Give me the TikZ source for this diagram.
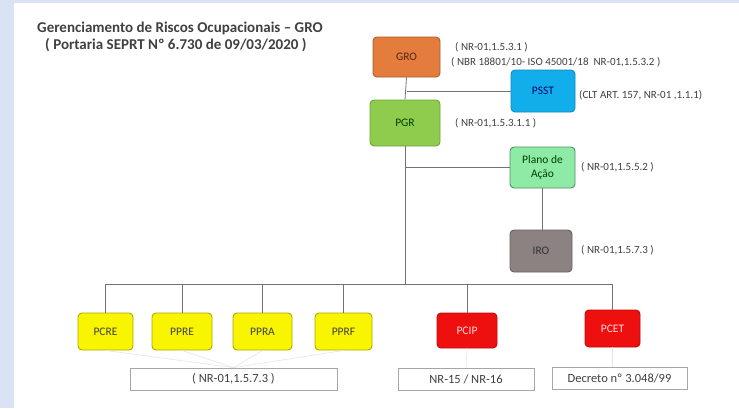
\documentclass[tikz,border=0pt]{standalone}
\usepackage{fontspec}
\setmainfont{Carlito}
\usetikzlibrary{positioning}

\definecolor{frameblue}{HTML}{DAE3F3}
\definecolor{txtgray}{HTML}{404040}
\definecolor{groorange}{HTML}{E47C3E}
\definecolor{psstblue}{HTML}{12AEEC}
\definecolor{pgrgreen}{HTML}{8FCB4C}
\definecolor{planogreen}{HTML}{8DEBA6}
\definecolor{irogray}{HTML}{8C8282}
\definecolor{progyellow}{HTML}{F9F400}
\definecolor{progred}{HTML}{EE0F0F}

\tikzset{
  box/.style={draw, rounded corners=4pt, line width=0.9pt, align=center,
    font=\fontsize{11.5}{13.5}\selectfont},
  yellowbox/.style={box, fill=progyellow, draw=progyellow!70!black, text=txtgray,
    minimum height=37pt},
  redbox/.style={box, fill=progred, draw=progred!80!black, text=red!15,
    minimum height=36pt},
  normbox/.style={draw=black!35, fill=white, line width=0.7pt, minimum height=22pt,
    inner sep=0pt, text=txtgray, font=\fontsize{12.5}{14}\selectfont},
  normlabel/.style={anchor=west, text=txtgray, inner sep=0pt,
    font=\fontsize{11}{13}\selectfont},
  link/.style={draw=black!55, line width=0.8pt},
  faint/.style={draw=black!10, line width=0.6pt}
}

\begin{document}
\begin{tikzpicture}[x=1pt,y=-1pt]
\fill[frameblue] (0,0) rectangle (739,408);
\fill[white] (14,3) rectangle (739,408);
\useasboundingbox (0,0) rectangle (739,408);

% title
\node[anchor=west, inner sep=0pt, text=txtgray, font=\bfseries\fontsize{15}{17}\selectfont] (title1) at (37,28) {Gerenciamento de Riscos Ocupacionais -- GRO};
\node[anchor=west, inner sep=0pt, text=txtgray, font=\bfseries\fontsize{15}{17}\selectfont] (title2) at (45,45) {( Portaria SEPRT Nº 6.730 de 09/03/2020 )};

% top of the tree
\node[box, fill=groorange, draw=groorange!75!black, text=groorange!35!black, minimum width=67pt, minimum height=40pt] (GRO) at (406.5,57) {GRO};
\node[box, fill=psstblue, draw=psstblue!80!black, text=blue!40!black, minimum width=64pt, minimum height=42pt] (PSST) at (543,91) {PSST};
\node[box, fill=pgrgreen, draw=pgrgreen!80!black, text=green!25!black, minimum width=70pt, minimum height=46pt] (PGR) at (405,123) {PGR};
\node[box, fill=planogreen, draw=planogreen!60!black, text=green!25!black, minimum width=65pt, minimum height=41pt, inner sep=1pt] (plano) at (542.5,167.5) {Plano de\\Ação};
\node[box, fill=irogray, draw=irogray!75!black, text=black!80, minimum width=62pt, minimum height=42pt] (IRO) at (541,251) {IRO};

\node[normlabel] (lgro1) at (455,47) {( NR-01,1.5.3.1 )};
\node[normlabel] (lgro2) at (451,62) {( NBR 18801/10- ISO 45001/18~~NR-01,1.5.3.2 )};
\node[normlabel] (lpsst) at (579,95) {(CLT ART. 157, NR-01 ,1.1.1)};
\node[normlabel] (lpgr) at (455,123) {( NR-01,1.5.3.1.1 )};
\node[normlabel] (lplano) at (581,167) {( NR-01,1.5.5.2 )};
\node[normlabel] (liro) at (581,250) {( NR-01,1.5.7.3 )};

% programs
\node[yellowbox, minimum width=55pt] (PCRE) at (105.5,331.5) {PCRE};
\node[yellowbox, minimum width=60pt] (PPRE) at (182,331.5) {PPRE};
\node[yellowbox, minimum width=59pt] (PPRA) at (262.5,331.5) {PPRA};
\node[yellowbox, minimum width=57pt] (PPRF) at (343.5,331.5) {PPRF};
\node[redbox, minimum width=60pt, minimum height=35pt] (PCIP) at (467,330.5) {PCIP};
\node[redbox, minimum width=55pt, minimum height=37pt] (PCET) at (612.5,328.5) {PCET};

\node[normbox, minimum width=207pt] (nryellow) at (233.5,379) {( NR-01,1.5.7.3 )};
\node[normbox, minimum width=136pt] (nrpcip) at (466,379.5) {NR-15 / NR-16};
\node[normbox, minimum width=135pt] (nrpcet) at (619.5,378) {Decreto nº 3.048/99};

\coordinate (bus) at (406,284);

% connectors
\draw[link] (GRO.south) -- (PGR.north);
\draw[link] (GRO.south |- PSST.west) -- (PSST.west);
\draw[link] (PGR.south) -- (PGR.south |- bus);
\draw[link] (PGR.south |- plano.west) -- (plano.west);
\draw[link] (plano.south) -- (plano.south |- IRO.north);
\draw[link] (PCRE.north |- bus) -- (PCET.north |- bus);
\foreach \p in {PCRE,PPRE,PPRA,PPRF,PCIP,PCET}
  \draw[link] (\p.north |- bus) -- (\p.north);

% faint
\foreach \p in {PCRE,PPRE,PPRA,PPRF}
  \draw[faint] (\p.south) -- (nryellow.north);
\draw[faint] (PCIP.south) -- (nrpcip.north);
\draw[faint] (PCET.south) -- (nrpcet.north -| PCET.south);
\end{tikzpicture}
\end{document}
